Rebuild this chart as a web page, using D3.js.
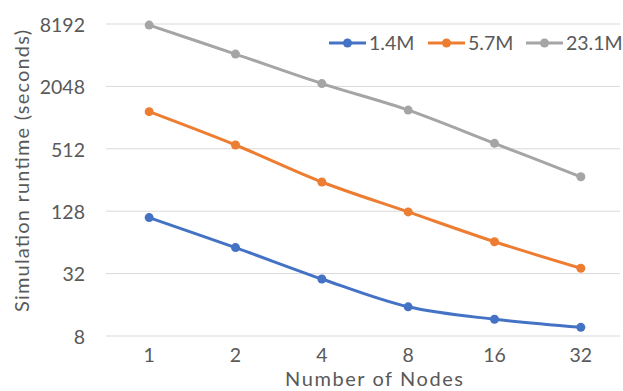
<!DOCTYPE html>
<html>
<head>
<meta charset="utf-8">
<script src="https://cdn.jsdelivr.net/npm/d3@7"></script>
<style>
  html, body { margin: 0; padding: 0; background: #fff; }
  svg { display: block; font-family: Lato, "Open Sans", sans-serif; }
</style>
</head>
<body>
<svg id="chart" width="623" height="391"></svg>
<script>
// Node counts on the x axis
const nodes = ["1", "2", "4", "8", "16", "32"];
// Runtime in seconds per problem size
const series1_4M = [111, 57, 28.4, 15.3, 11.6, 9.7];
const series5_7M = [1168, 557, 245, 126, 65, 36];
const series23_1M = [8000, 4200, 2180, 1210, 578, 275];
const seriesNames = ["1.4M", "5.7M", "23.1M"];
const seriesColors = ["#4472C4", "#ED7D31", "#A5A5A5"];
const yTicks = [8, 32, 128, 512, 2048, 8192];

const allSeries = [series1_4M, series5_7M, series23_1M];

const svg = d3.select("#chart");
const fontSize = "19.5px";
const titleSize = "20px";
const textColor = "#595959";

const x = d3.scaleBand().domain(nodes).range([106, 624]);
const y = d3.scaleLog().base(2).domain([8, 8192]).range([336, 24]);

// horizontal gridlines
svg.append("g").selectAll("line").data(yTicks).join("line")
  .attr("x1", 106).attr("x2", 620)
  .attr("y1", d => y(d)).attr("y2", d => y(d))
  .attr("stroke", "#D9D9D9").attr("stroke-width", 1);

// y axis labels
const yAxis = d3.axisLeft(y).tickValues(yTicks).tickFormat(d3.format("d")).tickSize(0).tickPadding(0);
svg.append("g").attr("transform", "translate(85,1)").call(yAxis)
  .call(g => g.select(".domain").remove())
  .call(g => g.selectAll("text").attr("fill", textColor).attr("font-size", fontSize)
    .attr("font-family", "Lato, sans-serif"));

// x axis labels
const xAxis = d3.axisBottom(x).tickSize(0).tickPadding(0);
svg.append("g").attr("transform", "translate(0,348)").call(xAxis)
  .call(g => g.select(".domain").remove())
  .call(g => g.selectAll("text").attr("fill", textColor).attr("font-size", fontSize)
    .attr("font-family", "Lato, sans-serif"));

// axis titles
svg.append("text").attr("x", 374).attr("y", 386)
  .attr("text-anchor", "middle").attr("fill", textColor).attr("font-size", titleSize)
  .attr("textLength", 178).attr("lengthAdjust", "spacing")
  .text("Number of Nodes");
svg.append("text").attr("transform", "translate(29,171) rotate(-90)")
  .attr("text-anchor", "middle").attr("fill", textColor).attr("font-size", titleSize)
  .attr("textLength", 282).attr("lengthAdjust", "spacing")
  .text("Simulation runtime (seconds)");

// lines and markers
const line = d3.line()
  .x((d, i) => x(nodes[i]) + x.bandwidth() / 2)
  .y(d => y(d))
  .curve(d3.curveCatmullRom.alpha(0.5));

allSeries.forEach((vals, si) => {
  const g = svg.append("g");
  g.append("path").datum(vals).attr("d", line)
    .attr("fill", "none").attr("stroke", seriesColors[si])
    .attr("stroke-width", 3).attr("stroke-linecap", "round");
  g.selectAll("circle").data(vals).join("circle")
    .attr("cx", (d, i) => x(nodes[i]) + x.bandwidth() / 2)
    .attr("cy", d => y(d))
    .attr("r", 4.5)
    .attr("fill", seriesColors[si]);
});

// legend
const legendX = [329, 428, 526];
const legend = svg.append("g");
seriesNames.forEach((name, i) => {
  const lg = legend.append("g").attr("transform", `translate(${legendX[i]},43)`);
  lg.append("line").attr("x1", 0).attr("x2", 37).attr("y1", 0).attr("y2", 0)
    .attr("stroke", seriesColors[i]).attr("stroke-width", 3);
  lg.append("circle").attr("cx", 18.5).attr("cy", 0).attr("r", 4.5).attr("fill", seriesColors[i]);
  lg.append("text").attr("x", 40).attr("y", 7)
    .attr("fill", textColor).attr("font-size", fontSize).text(name);
});
</script>
</body>
</html>
